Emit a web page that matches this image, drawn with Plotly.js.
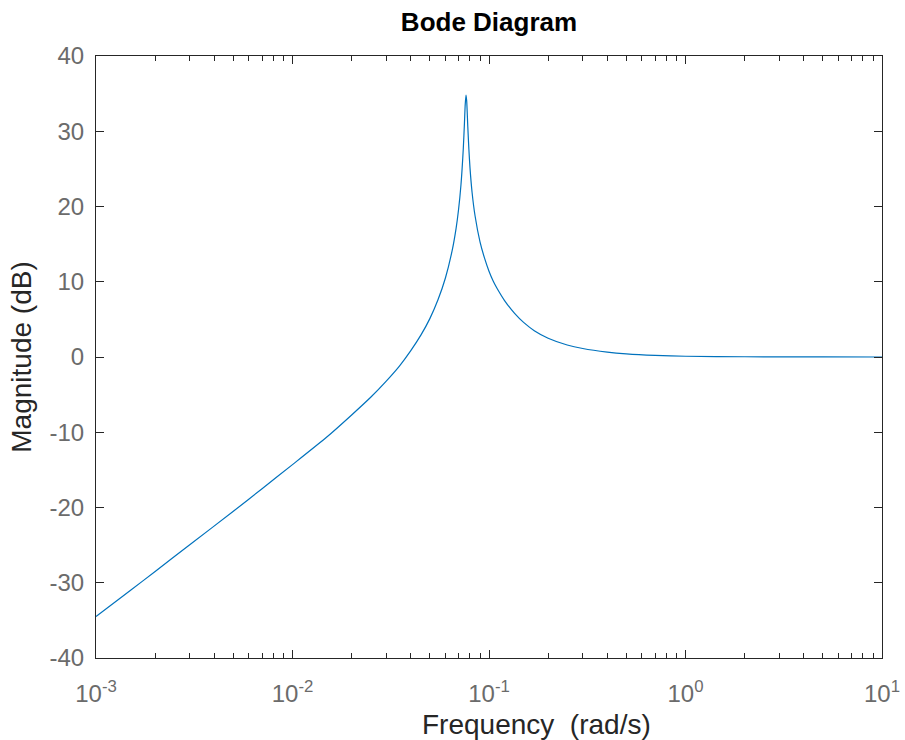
<!DOCTYPE html>
<html>
<head>
<meta charset="utf-8">
<script src="https://cdn.plot.ly/plotly-3.0.1.min.js"></script>
<style>html,body{margin:0;padding:0;background:#fff;}#chart{width:905px;height:740px;}</style>
</head>
<body>
<div id="chart"></div>
<script>
// Frequency (rad/s) and magnitude (dB)
const freq = [0.001, 0.0015, 0.002, 0.003, 0.005, 0.007, 0.01, 0.015, 0.02, 0.025, 0.03, 0.035, 0.04, 0.045, 0.05, 0.055, 0.06, 0.065, 0.068, 0.07, 0.072, 0.073, 0.074, 0.075, 0.0757, 0.0764, 0.077, 0.078, 0.079, 0.08, 0.082, 0.085, 0.09, 0.095, 0.1, 0.105, 0.11, 0.12, 0.135, 0.15, 0.17, 0.2, 0.25, 0.3, 0.4, 0.5, 0.7, 1, 2, 5, 10];
const magDb = [-34.5, -31.0, -28.5, -24.95, -20.5, -17.5, -14.3, -10.6, -7.7, -5.35, -3.2, -1.2, 0.85, 2.9, 5.1, 7.6, 10.5, 14.2, 17.1, 19.6, 22.9, 25.1, 27.7, 31.1, 33.6, 34.8, 34.0, 30.6, 27.6, 25.2, 21.9, 18.7, 15.3, 13.1, 11.4, 10.1, 9.1, 7.5, 5.8, 4.6, 3.5, 2.5, 1.6, 1.13, 0.65, 0.41, 0.21, 0.10, 0.03, 0.005, 0.001];

const xTickVals = [0.001, 0.01, 0.1, 1, 10];
const xTickText = ['10<sup>-3</sup>', '10<sup>-2</sup>', '10<sup>-1</sup>', '10<sup>0</sup>', '10<sup>1</sup>'];
const yTickVals = [-40, -30, -20, -10, 0, 10, 20, 30, 40];
const yTickText = ['-40', '-30', '-20', '-10', '0', '10', '20', '30', '40'];
const titleText = 'Bode Diagram';
const xTitleText = 'Frequency  (rad/s)';
const yTitleText = 'Magnitude (dB)';

const axisColor = '#262626';
const tickFontColor = '#6b6b6b';
const fontFamily = '"Liberation Sans", Arial, Helvetica, sans-serif';

const trace = {
  x: freq,
  y: magDb,
  type: 'scatter',
  mode: 'lines',
  line: {color: '#0072BD', width: 1.2, shape: 'spline', smoothing: 0.6},
  hoverinfo: 'none'
};

const layout = {
  width: 905,
  height: 740,
  margin: {l: 96, r: 23, t: 56, b: 82, pad: 0},
  paper_bgcolor: '#ffffff',
  plot_bgcolor: '#ffffff',
  showlegend: false,
  font: {family: fontFamily, color: axisColor},
  title: {
    text: '<b>' + titleText + '</b>',
    font: {family: fontFamily, size: 26, color: '#000000'},
    x: 0.5, xanchor: 'center', xref: 'paper',
    y: 1 - 22 / 740, yanchor: 'middle', yref: 'container'
  },
  xaxis: {
    type: 'log',
    range: [-3, 1],
    tickvals: xTickVals,
    ticktext: xTickText,
    ticks: 'inside',
    ticklen: 8,
    tickwidth: 1,
    tickcolor: axisColor,
    minor: {ticks: 'inside', ticklen: 5, tickwidth: 1, tickcolor: axisColor, dtick: 'D1', showgrid: false},
    showline: true,
    linecolor: axisColor,
    linewidth: 1,
    mirror: 'ticks',
    showgrid: false,
    zeroline: false,
    tickfont: {family: fontFamily, size: 24, color: tickFontColor},
    ticklabelstandoff: 14
  },
  yaxis: {
    range: [-40, 40],
    tickvals: yTickVals,
    ticktext: yTickText,
    ticks: 'inside',
    ticklen: 8,
    tickwidth: 1,
    tickcolor: axisColor,
    showline: true,
    linecolor: axisColor,
    linewidth: 1,
    mirror: 'ticks',
    showgrid: false,
    zeroline: false,
    tickfont: {family: fontFamily, size: 24, color: tickFontColor},
    ticklabelstandoff: 6,
    title: {text: yTitleText, font: {family: fontFamily, size: 28, color: axisColor}, standoff: 9}
  },
  annotations: [{
    text: xTitleText,
    xref: 'paper', yref: 'paper',
    x: 0.561, y: 0, xanchor: 'center', yanchor: 'middle',
    yshift: -66,
    showarrow: false,
    font: {family: fontFamily, size: 28, color: axisColor}
  }]
};

Plotly.newPlot('chart', [trace], layout, {displayModeBar: false, staticPlot: true});
</script>
</body>
</html>
